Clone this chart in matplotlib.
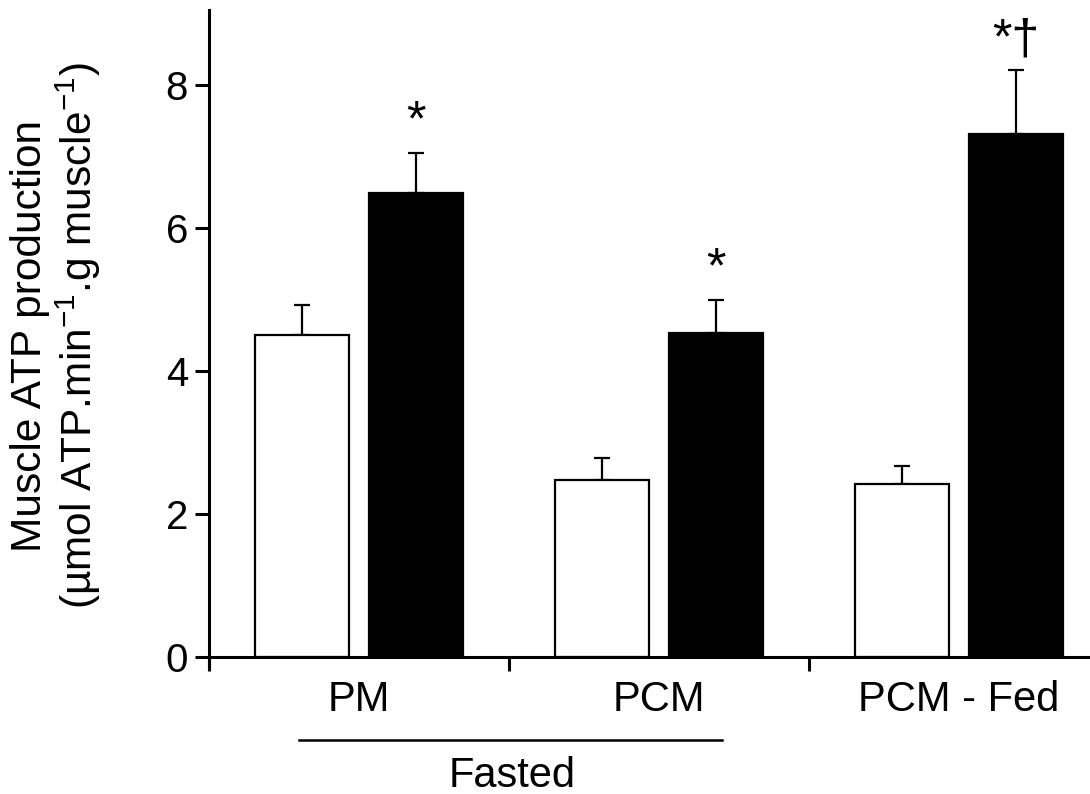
import numpy as np
import matplotlib
matplotlib.use("Agg")
import matplotlib.pyplot as plt

plt.rcParams['font.family'] = ['Liberation Sans', 'DejaVu Sans']
plt.rcParams['mathtext.fontset'] = 'custom'
plt.rcParams['mathtext.rm'] = 'Liberation Sans'

# data
groups = ['PM', 'PCM', 'PCM - Fed']
white_vals = [4.50, 2.48, 2.42]
white_err = [0.42, 0.30, 0.25]
black_vals = [6.49, 4.53, 7.32]
black_err = [0.57, 0.47, 0.89]
marks = ['*', '*', '*\u2020']

x = np.arange(len(groups)) + 0.5
off = 0.19
w = 0.315

fig = plt.figure(figsize=(10.9, 7.94), dpi=100)
ax = fig.add_axes([0.1917, 0.1725 - 0.15 * 0.09, 0.82, 0.8145 + 0.15 * 0.09])

ax.bar(x - off, white_vals, w, color='white', edgecolor='black', linewidth=1.6, zorder=2)
ax.bar(x + off, black_vals, w, color='black', edgecolor='black', linewidth=1.6, zorder=2)
ax.errorbar(x - off, white_vals, yerr=[np.zeros(3), white_err], fmt='none',
            ecolor='black', elinewidth=1.6, capsize=6, capthick=1.6, zorder=1)
ax.errorbar(x + off, black_vals, yerr=[np.zeros(3), black_err], fmt='none',
            ecolor='black', elinewidth=1.6, capsize=6, capthick=1.6, zorder=1)

for xi, v, e, m in zip(x + off, black_vals, black_err, marks):
    ax.text(xi, v + e + 0.1, m, ha='center', va='bottom', fontsize=36)

ax.set_xlim(0, 2.98)
ax.set_ylim(-0.15, 9.05)
ax.spines['right'].set_visible(False)
ax.spines['top'].set_visible(False)
ax.spines['bottom'].set_position(('data', 0))
for s in ['left', 'bottom']:
    ax.spines[s].set_linewidth(2.2)

ax.set_yticks([0, 2, 4, 6, 8])
ax.set_xticks([0, 1, 2])
ax.set_xticklabels([])
ax.tick_params(axis='y', direction='out', length=10, width=2.2, labelsize=29, pad=5)
ax.tick_params(axis='x', direction='out', length=10, width=2.2)

ax.set_ylabel('Muscle ATP production\n(\u00b5mol ATP.min$^{-1}$.g muscle$^{-1}$)',
              fontsize=30.5, linespacing=1.08)
ax.yaxis.set_label_coords(-0.119, 0.505)

# category labels below the axis
for xi, g in zip(x, groups):
    ax.text(xi, -0.32, g, ha='center', va='top', fontsize=30)
ax.plot([0.30, 1.71], [-1.16, -1.16], color='black', lw=1.8, clip_on=False)
ax.text(1.01, -1.38, 'Fasted', ha='center', va='top', fontsize=30)

fig.savefig('out.png', dpi=100)
